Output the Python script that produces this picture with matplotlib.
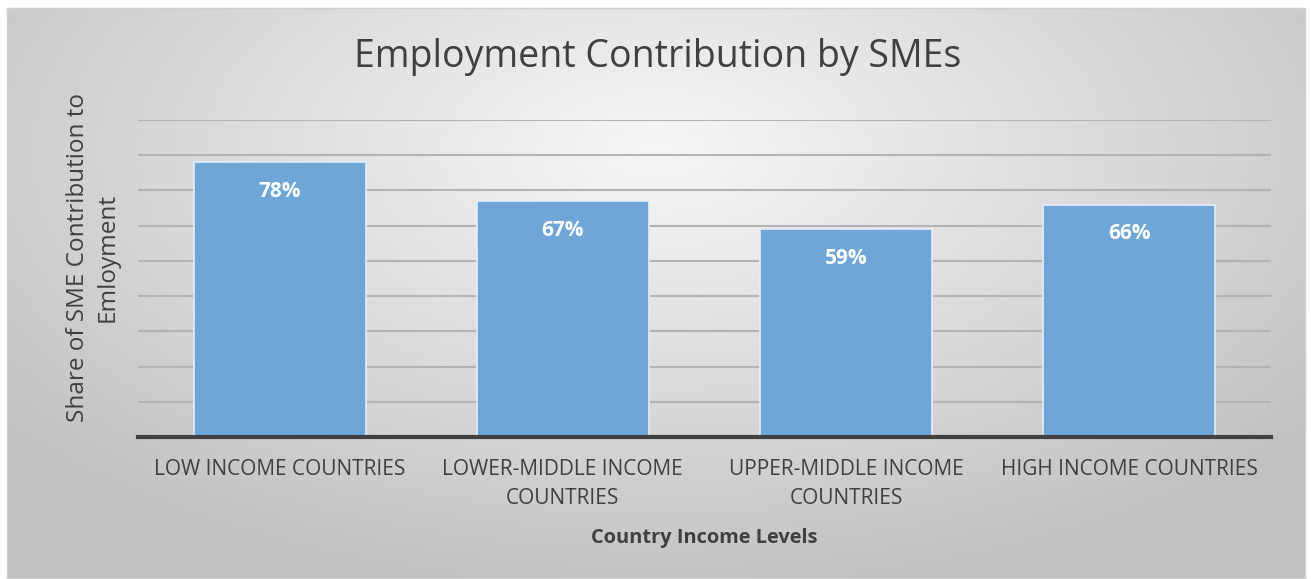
import numpy as np
import matplotlib.pyplot as plt

# data
categories = ["LOW INCOME COUNTRIES", "LOWER-MIDDLE INCOME\nCOUNTRIES",
              "UPPER-MIDDLE INCOME\nCOUNTRIES", "HIGH INCOME COUNTRIES"]
shares = [78, 67, 59, 66]
yticks = np.arange(0, 91, 10)

plt.rcParams['font.family'] = ['Open Sans', 'DejaVu Sans']

fig = plt.figure(figsize=(13.11, 5.79), dpi=100)
W, H = 1311, 579

# radial gradient background of the chart frame
bg = fig.add_axes([7/W, 1-578/H, 1298/W, 570/H])
gx, gy = np.meshgrid(np.linspace(0, 1, 400), np.linspace(0, 1, 200))
r = np.sqrt(((gx-0.5)/0.75)**2 + ((gy-0.25)/0.9)**2)
g = np.clip(0.97 - 0.24*r, 0.76, 0.97)
bg.imshow(np.dstack([g, g, g]), aspect='auto', extent=[0, 1, 0, 1], origin='upper')
bg.set_xticks([]); bg.set_yticks([])
for s in bg.spines.values():
    s.set_color('#d0d0d0')
    s.set_linewidth(1)

# plot area
ax = fig.add_axes([138/W, 1-437/H, 1133/W, 317/H])
ax.patch.set_alpha(0)
x = np.arange(len(categories))
ax.set_xlim(-0.5, 3.5)
ax.set_ylim(0, 90)
ax.set_yticks(yticks)
ax.yaxis.grid(True, color='#b4b4b4', lw=1.5)
ax.set_axisbelow(True)
ax.tick_params(axis='y', left=False, labelleft=False)
ax.tick_params(axis='x', bottom=False, labelsize=15, labelcolor='#404040', pad=12)
for s in ['top', 'right', 'left']:
    ax.spines[s].set_visible(False)
ax.spines['bottom'].set_color('#404040')
ax.spines['bottom'].set_linewidth(3)

bars = ax.bar(x, shares, width=0.607, color='#6fa6d8', edgecolor='#e6eef8', lw=1.2, zorder=2)
for xi, v in zip(x, shares):
    ax.text(xi, v - 5.3, f"{v}%", ha='center', va='top', color='white',
            fontsize=15, fontweight='bold', zorder=3)

ax.set_xticks(x)
ax.set_xticklabels(categories, linespacing=1.5)
ax.set_xlabel("Country Income Levels", fontsize=14.4, fontweight='bold', color='#404040', labelpad=14)

fig.text(658/W, 1-57/H, "Employment Contribution by SMEs", ha='center', va='center',
         fontsize=27, color='#404040')
fig.text(93/W, 1-258/H, "Share of SME Contribution to\nEmloyment", ha='center', va='center',
         rotation=90, fontsize=17.5, color='#404040', linespacing=1.3)

fig.savefig('out.png', dpi=100)
